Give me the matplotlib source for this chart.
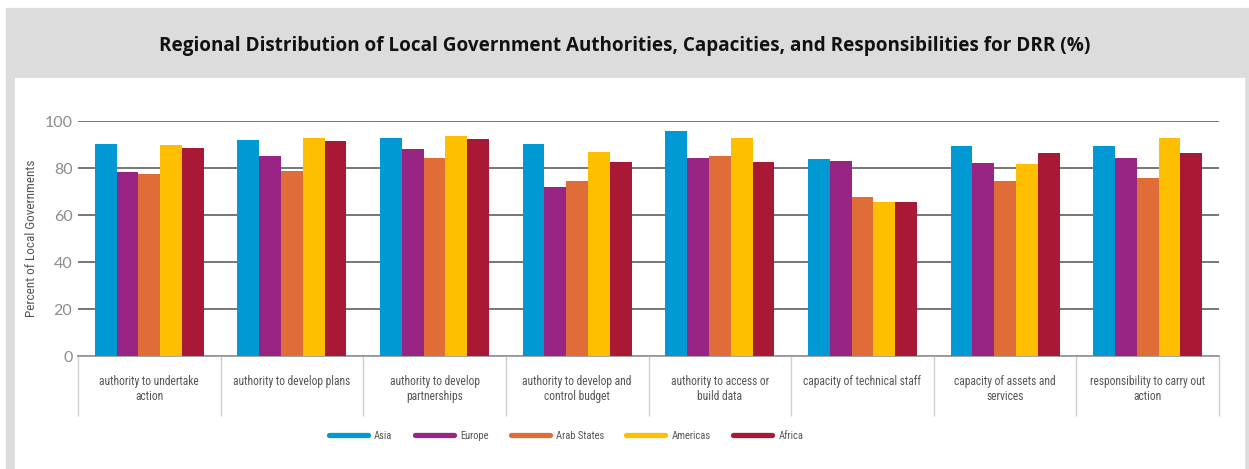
import numpy as np
import matplotlib
matplotlib.use("Agg")
import matplotlib.pyplot as plt
from matplotlib.patches import Rectangle
from matplotlib.lines import Line2D

categories = [
    "authority to undertake\naction",
    "authority to develop plans",
    "authority to develop\npartnerships",
    "authority to develop and\ncontrol budget",
    "authority to access or\nbuild data",
    "capacity of technical staff",
    "capacity of assets and\nservices",
    "responsibility to carry out\naction",
]
regions = ["Asia", "Europe", "Arab States", "Americas", "Africa"]
asia = [90.2, 92.1, 92.9, 90.2, 95.9, 84.0, 89.2, 89.2]
europe = [78.4, 85.2, 88.2, 72.0, 84.1, 83.1, 82.1, 84.3]
arab_states = [77.4, 78.7, 84.4, 74.3, 85.2, 67.5, 74.5, 75.6]
americas = [89.8, 92.6, 93.6, 86.7, 92.6, 65.7, 81.7, 92.6]
africa = [88.6, 91.4, 92.3, 82.4, 82.4, 65.5, 86.5, 86.5]
colors = ["#0099D4", "#982584", "#E06C37", "#FDBF00", "#A91834"]

series = [asia, europe, arab_states, americas, africa]

narrow = ["Liberation Sans Narrow", "Roboto Condensed", "Roboto", "DejaVu Sans"]

fig = plt.figure(figsize=(12.49, 4.69), dpi=100)
W, H = 1249, 469

# grey frame and white panel
fig.patches.append(Rectangle((6 / W, 0), 1 - 6 / W, (H - 8) / H,
                             transform=fig.transFigure, color="#DCDCDC", zorder=-10))
fig.patches.append(Rectangle((15 / W, 0), (1244 - 15) / W, (H - 78) / H,
                             transform=fig.transFigure, color="white", zorder=-9))

fig.text(625 / W, (H - 46) / H,
         "Regional Distribution of Local Government Authorities, Capacities, and Responsibilities for DRR (%)",
         ha="center", va="center", fontsize=13.6, fontweight="bold",
         family=["Open Sans", "DejaVu Sans"], color="#111111")

ax = fig.add_axes([78 / W, (H - 356) / H, (1219 - 78) / W, (356 - 121) / H])

x = np.arange(len(categories))
bw = 0.153
for i, (vals, col, name) in enumerate(zip(series, colors, regions)):
    ax.bar(x + (i - 2) * bw, vals, bw, color=col, label=name, zorder=3)

ax.set_xlim(-0.5, len(categories) - 0.5)
ax.set_ylim(0, 100)
ax.set_yticks([0, 20, 40, 60, 80, 100])
ax.yaxis.grid(True, color="#6b6b6b", linewidth=1.3, zorder=0)
ax.tick_params(axis="y", length=0, pad=4, labelsize=11.5, labelcolor="#8c8c8c")
for lab in ax.get_yticklabels():
    lab.set_family(["Lato", "DejaVu Sans"])

ax.set_xticks(x)
ax.set_xticklabels(categories, fontsize=8.3, color="#555555", family=narrow, linespacing=1.2)
ax.tick_params(axis="x", which="major", length=0, pad=14)
ax.set_xticks(np.arange(-0.5, len(categories)), minor=True)
ax.tick_params(axis="x", which="minor", length=43, width=1.0, color="#cfcfcf")

for s in ["top", "right", "left"]:
    ax.spines[s].set_visible(False)
ax.spines["bottom"].set_color("#9a9a9a")
ax.spines["bottom"].set_linewidth(1.3)

fig.text(32 / W, (H - 238) / H, "Percent of Local Governments", rotation=90,
         ha="center", va="center", fontsize=9.5, color="#555555", family=narrow)

handles = [Line2D([0], [0], color=c, linewidth=3.8, solid_capstyle="round") for c in colors]
leg = fig.legend(handles, regions, loc="center", bbox_to_anchor=(566 / W, (H - 436) / H),
                 ncol=5, frameon=False, handlelength=3.7, handletextpad=0.6,
                 columnspacing=2.1, prop={"family": narrow, "size": 7.6})
for t in leg.get_texts():
    t.set_color("#555555")

fig.savefig("out.png", dpi=100)
